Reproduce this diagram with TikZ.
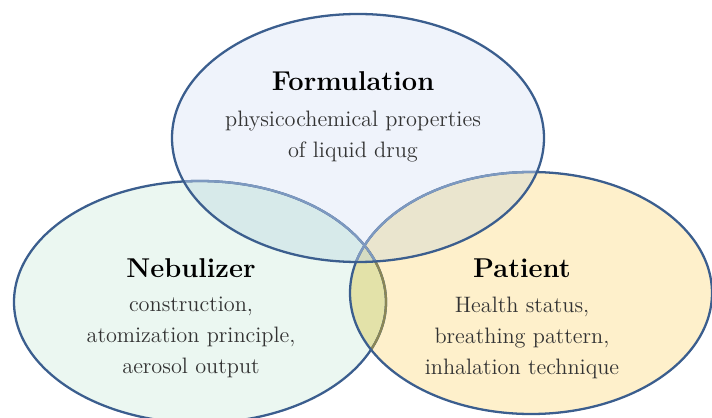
\documentclass[tikz,border=0pt]{standalone}
\usepackage{tikz}
\usetikzlibrary{positioning}

\definecolor{rim}{HTML}{3B5E8E}
\definecolor{rimfade}{HTML}{7D99C0}
\definecolor{rimolive}{HTML}{8A8656}
\definecolor{fillF}{HTML}{EFF3FB}
\definecolor{fillN}{HTML}{EBF7F1}
\definecolor{fillP}{HTML}{FEF0CB}
\definecolor{fillFN}{HTML}{D7EAEA}
\definecolor{fillFP}{HTML}{EAE5CE}
\definecolor{fillNP}{HTML}{E3E2A9}
\definecolor{fillFNP}{HTML}{D5DBC2}
\definecolor{bodygrey}{HTML}{333333}

\tikzset{
	ellF/.style={x radius=186, y radius=124},
	ellN/.style={x radius=186, y radius=121},
	ellP/.style={x radius=181, y radius=121},
	rimline/.style={line width=1.3pt},
	headline/.style={font=\fontsize{15.5}{18}\selectfont\bfseries, inner sep=0pt},
	bodytext/.style={font=\fontsize{12.7}{17.6}\selectfont, text=bodygrey, align=center, inner sep=0pt}
}

\begin{document}
\begin{tikzpicture}[x=0.02cm, y=-0.02cm]
	\useasboundingbox (0,0) rectangle (712,418);
	\clip (0,0) rectangle (712,418);
	
	%centres
	\coordinate (cf) at (358,138);
	\coordinate (cn) at (200,302);
	\coordinate (cp) at (531,293);
	
	%fills
	\fill[fillN] (cn) ellipse [ellN];
	\fill[fillP] (cp) ellipse [ellP];
	\fill[fillF] (cf) ellipse [ellF];
	\begin{scope}
		\clip (cn) ellipse [ellN];
		\fill[fillNP] (cp) ellipse [ellP];
	\end{scope}
	\begin{scope}
		\clip (cf) ellipse [ellF];
		\fill[fillFN] (cn) ellipse [ellN];
		\fill[fillFP] (cp) ellipse [ellP];
		\clip (cn) ellipse [ellN];
		\fill[fillFNP] (cp) ellipse [ellP];
	\end{scope}
	
	%lines
	\draw[rimline, rim] (cn) ellipse [ellN];
	\begin{scope}
		\clip (cp) ellipse [ellP];
		\draw[rimline, rimolive] (cn) ellipse [ellN];	%seen through patient
	\end{scope}
	\draw[rimline, rim] (cp) ellipse [ellP];
	\begin{scope}
		\clip (cf) ellipse [ellF];
		\draw[rimline, rimfade] (cn) ellipse [ellN];	%seen through formulation
		\draw[rimline, rimfade] (cp) ellipse [ellP];
	\end{scope}
	\draw[rimline, rim] (cf) ellipse [ellF];
	
	%labels
	\node[headline, anchor=base] (form) at (353,91) {Formulation};
	\node[bodytext, below=11pt of form] (formtxt) {physicochemical properties\\of liquid drug};
	%
	\node[headline, anchor=base] (neb) at (191,277) {Nebulizer};
	\node[bodytext, below=11pt of neb] (nebtxt) {construction,\\atomization principle,\\aerosol output};
	%
	\node[headline, anchor=base] (pat) at (522,277) {Patient};
	\node[bodytext, below=11pt of pat] (pattxt) {Health status,\\breathing pattern,\\inhalation technique};
\end{tikzpicture}
\end{document}
